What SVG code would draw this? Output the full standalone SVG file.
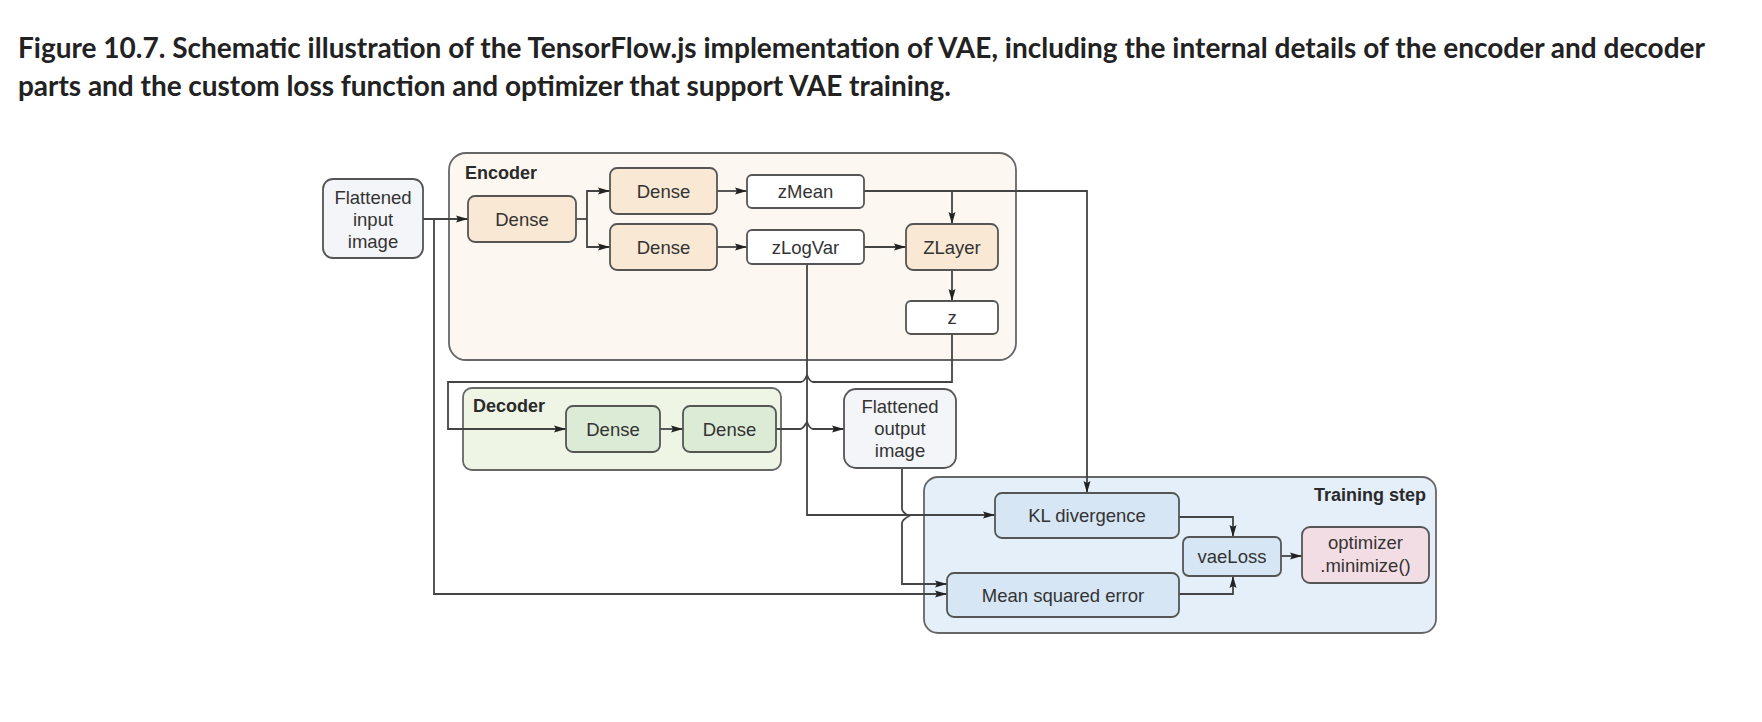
<svg xmlns="http://www.w3.org/2000/svg" width="1762" height="722" viewBox="0 0 1762 722">
<defs>
<marker id="ah" viewBox="0 0 12 8" refX="12" refY="4" markerWidth="12" markerHeight="8" orient="auto" markerUnits="userSpaceOnUse">
<path d="M0,0.5 L12,4 L0,7.5 L2,4 Z" fill="#222"/>
</marker>
<style>
.title{font-family:Lato,"Open Sans",sans-serif;font-weight:700;font-size:28px;fill:#222}
.lbl{font-family:"Liberation Sans",Arial,sans-serif;font-size:18.5px;fill:#333;text-anchor:middle}
.grp{font-family:"Liberation Sans",Arial,sans-serif;font-weight:700;font-size:18px;fill:#2a2a2a}
.cont{stroke:#666;stroke-width:1.8}
.box{stroke:#555;stroke-width:1.8}
.enc{fill:#fcf7f1}
.encn{fill:#f8e8d4}
.white{fill:#ffffff}
.io{fill:#f3f5f8}
.dec{fill:#eef5e5}
.decn{fill:#dcebd6}
.trn{fill:#e4eff9}
.trnn{fill:#d6e6f4}
.opt{fill:#f3dde4}
.ln{fill:none;stroke:#444;stroke-width:1.8}
.arr{fill:none;stroke:#444;stroke-width:1.8;marker-end:url(#ah)}
</style>
</defs>
<rect width="1762" height="722" fill="#ffffff"/>
<g id="title">
<text class="title" x="18" y="58" textLength="1687" lengthAdjust="spacing">Figure 10.7. Schematic illustration of the TensorFlow.js implementation of VAE, including the internal details of the encoder and decoder</text>
<text class="title" x="18" y="96" textLength="933" lengthAdjust="spacing">parts and the custom loss function and optimizer that support VAE training.</text>
</g>
<g id="encoder">
<rect class="cont enc" x="449" y="153" width="567" height="207" rx="17"/>
<text class="grp" x="465" y="179">Encoder</text>
</g>
<g id="decoder">
<rect class="cont dec" x="463" y="388" width="318" height="82" rx="9"/>
<text class="grp" x="473" y="412">Decoder</text>
</g>
<g id="training-step">
<rect class="cont trn" x="924" y="477" width="512" height="156" rx="14"/>
<text class="grp" x="1426" y="501" text-anchor="end">Training step</text>
</g>
<g id="connectors">
<path class="arr" d="M423,219 H468"/>
<path class="ln" d="M576,219 H587"/>
<path class="arr" d="M587,219 V191 H610"/>
<path class="arr" d="M587,219 V247 H610"/>
<path class="arr" d="M717,191 H747"/>
<path class="arr" d="M717,247 H747"/>
<path class="arr" d="M864,247 H906"/>
<path class="arr" d="M864,191 H1087 V493"/>
<path class="arr" d="M952,191 V224"/>
<path class="arr" d="M952,270 V301"/>
<path class="arr" d="M952,334 V382 H813 Q810,382 807,375 Q804,382 801,382 H448 V429 H566"/>
<path class="arr" d="M660,429 H683"/>
<path class="arr" d="M776,429 H800 Q803,429 807,422 Q810,429 813,429 H844"/>
<path class="arr" d="M807,264 V515 H995"/>
<path class="arr" d="M902,468 V509 Q902,512 909,516 Q902,520 902,523 V584 H947"/>
<path class="arr" d="M434,219 V594 H947"/>
<path class="arr" d="M1179,517 H1233 V537"/>
<path class="arr" d="M1179,594 H1233 V576"/>
<path class="arr" d="M1281,556 H1302"/>
</g>
<g id="input-image">
<rect class="box io" x="323" y="179" width="100" height="79" rx="10"/>
<text class="lbl" x="373" y="204">Flattened</text>
<text class="lbl" x="373" y="226">input</text>
<text class="lbl" x="373" y="248">image</text>
</g>
<g id="enc-dense1">
<rect class="box encn" x="468" y="196" width="108" height="46" rx="7"/>
<text class="lbl" x="522" y="226">Dense</text>
</g>
<g id="enc-dense2">
<rect class="box encn" x="610" y="168" width="107" height="46" rx="7"/>
<text class="lbl" x="663.5" y="198">Dense</text>
</g>
<g id="enc-dense3">
<rect class="box encn" x="610" y="224" width="107" height="46" rx="7"/>
<text class="lbl" x="663.5" y="254">Dense</text>
</g>
<g id="zMean">
<rect class="box white" x="747" y="175" width="117" height="33" rx="5"/>
<text class="lbl" x="805.5" y="198">zMean</text>
</g>
<g id="zLogVar">
<rect class="box white" x="747" y="230" width="117" height="34" rx="5"/>
<text class="lbl" x="805.5" y="254">zLogVar</text>
</g>
<g id="zLayer">
<rect class="box encn" x="906" y="224" width="92" height="46" rx="7"/>
<text class="lbl" x="952" y="254">ZLayer</text>
</g>
<g id="z">
<rect class="box white" x="906" y="301" width="92" height="33" rx="5"/>
<text class="lbl" x="952" y="324">z</text>
</g>
<g id="dec-dense1">
<rect class="box decn" x="566" y="406" width="94" height="46" rx="7"/>
<text class="lbl" x="613" y="436">Dense</text>
</g>
<g id="dec-dense2">
<rect class="box decn" x="683" y="406" width="93" height="46" rx="7"/>
<text class="lbl" x="729.5" y="436">Dense</text>
</g>
<g id="output-image">
<rect class="box io" x="844" y="389" width="112" height="79" rx="12"/>
<text class="lbl" x="900" y="413">Flattened</text>
<text class="lbl" x="900" y="435">output</text>
<text class="lbl" x="900" y="457">image</text>
</g>
<g id="kl-divergence">
<rect class="box trnn" x="995" y="493" width="184" height="45" rx="7"/>
<text class="lbl" x="1087" y="522">KL divergence</text>
</g>
<g id="mse">
<rect class="box trnn" x="947" y="573" width="232" height="44" rx="7"/>
<text class="lbl" x="1063" y="602">Mean squared error</text>
</g>
<g id="vaeLoss">
<rect class="box trnn" x="1183" y="537" width="98" height="39" rx="6"/>
<text class="lbl" x="1232" y="563">vaeLoss</text>
</g>
<g id="optimizer">
<rect class="box opt" x="1302" y="527" width="127" height="56" rx="8"/>
<text class="lbl" x="1365.5" y="549">optimizer</text>
<text class="lbl" x="1365.5" y="572">.minimize()</text>
</g>
</svg>
